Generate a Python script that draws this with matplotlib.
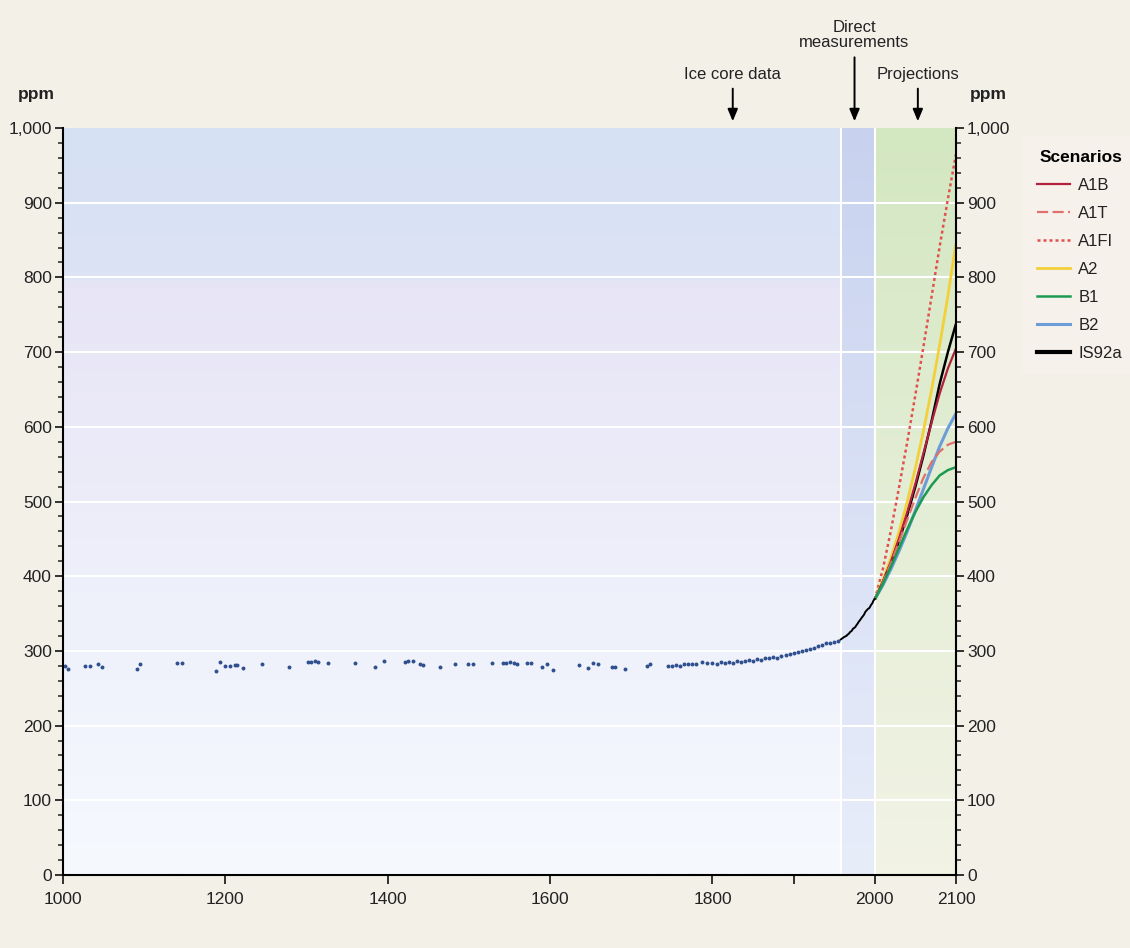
import numpy as np
import matplotlib
matplotlib.use("Agg")
import matplotlib.pyplot as plt
from matplotlib.colors import LinearSegmentedColormap
from matplotlib.ticker import MultipleLocator, FuncFormatter, FixedLocator
from matplotlib.lines import Line2D

plt.rcParams['font.family'] = ['Liberation Sans Narrow', 'Liberation Sans', 'DejaVu Sans']

# ---------------- data ----------------
# ice core samples (year, ppm)
iceYears = [1002, 1006, 1027, 1033, 1043, 1048, 1091, 1095, 1140, 1146,
            1189, 1193, 1199, 1206, 1212, 1214, 1222, 1245, 1279, 1302,
            1306, 1310, 1314, 1327, 1360, 1384, 1396, 1421, 1425, 1431,
            1440, 1444, 1464, 1483, 1499, 1505, 1528, 1542, 1546, 1550,
            1555, 1559, 1571, 1577, 1590, 1596, 1604, 1635, 1647, 1653,
            1659, 1676, 1680, 1692, 1719, 1723, 1745, 1750, 1755, 1760,
            1765, 1770, 1775, 1780, 1787, 1793, 1800, 1805, 1810, 1815,
            1820, 1825, 1830, 1835, 1840, 1845, 1850, 1855, 1860, 1865,
            1870, 1875, 1880, 1885, 1890, 1895, 1900, 1905, 1910, 1915,
            1920, 1925, 1930, 1935, 1940, 1945, 1950, 1955]
icePpm = [280, 276, 280, 280, 282, 278, 276, 283, 284, 284,
          273, 285, 280, 280, 281, 281, 277, 282, 279, 285,
          285, 286, 285, 284, 284, 279, 286, 285, 286, 287,
          282, 281, 279, 282, 282, 282, 284, 284, 284, 285,
          284, 283, 284, 284, 279, 282, 275, 281, 277, 284,
          283, 279, 278, 276, 280, 283, 280, 280, 281, 280,
          282, 283, 282, 283, 285, 284, 284, 283, 285, 284,
          285, 284, 286, 285, 286, 288, 287, 289, 288, 290,
          290, 292, 291, 293, 294, 296, 297, 298, 300, 301,
          303, 304, 307, 308, 310, 310, 312, 313]

# direct measurements (Mauna Loa annual means)
mloYears = list(range(1958, 2001))
mloPpm = [315.3, 316.0, 316.9, 317.6, 318.5, 319.0, 319.6, 320.0, 321.4, 322.2,
          323.0, 324.6, 325.7, 326.3, 327.5, 329.7, 330.2, 331.1, 332.0, 333.8,
          335.4, 336.8, 338.8, 340.1, 341.5, 343.1, 344.7, 346.1, 347.4, 349.2,
          351.6, 353.1, 354.4, 355.6, 356.5, 357.1, 358.8, 360.8, 362.6, 363.7,
          366.7, 368.4, 369.6]

# projections
projYears = [2000, 2010, 2020, 2030, 2040, 2050, 2060, 2070, 2080, 2090, 2100]
scenarios = {
    "A1B":   [369, 393, 420, 451, 486, 524, 565, 606, 645, 678, 705],
    "A1T":   [369, 392, 418, 446, 476, 505, 532, 553, 567, 576, 580],
    "A1FI":  [369, 410, 462, 520, 580, 643, 708, 775, 842, 905, 965],
    "A2":    [369, 395, 425, 460, 500, 545, 595, 650, 710, 775, 846],
    "B1":    [369, 390, 413, 438, 463, 486, 506, 522, 535, 542, 546],
    "B2":    [369, 388, 410, 434, 460, 488, 517, 546, 574, 598, 618],
    "IS92a": [369, 392, 418, 448, 482, 520, 562, 608, 658, 700, 738],
}
styles = {
    "A1B":   dict(color="#b3203c", ls="-", lw=1.6),
    "A1T":   dict(color="#e0706c", ls=(0, (5, 2)), lw=1.6),
    "A1FI":  dict(color="#e2504e", ls=(0, (1.2, 1.2)), lw=1.8),
    "A2":    dict(color="#f3d03a", ls="-", lw=2.0),
    "B1":    dict(color="#1c9a52", ls="-", lw=1.8),
    "B2":    dict(color="#6d9dd8", ls="-", lw=2.2),
    "IS92a": dict(color="#000000", ls="-", lw=1.8),
}
legendOrder = ["A1B", "A1T", "A1FI", "A2", "B1", "B2", "IS92a"]
drawOrder = ["A1FI", "A2", "IS92a", "A1B", "B2", "A1T", "B1"]

directStart = 1958
projStart = 2000

# ---------------- figure ----------------
fig = plt.figure(figsize=(11.3, 9.48), dpi=100)
fig.patch.set_facecolor("#f3f0e8")
ax = fig.add_axes([63/1130, 73/948, 893/1130, 747/948])

# background gradients
def grad(stops):
    cm = LinearSegmentedColormap.from_list("g", stops)
    return cm(np.linspace(0, 1, 300))[::-1, None, :]

mainBg = grad([(0, "#f6f9fe"), (0.3, "#eff2fb"), (0.6, "#ebeaf8"),
               (0.79, "#e7e5f6"), (0.81, "#dbe3f5"), (1, "#d7e1f4")])
directBg = grad([(0, "#e8edfa"), (0.6, "#d6def4"), (1, "#c8d2ee")])
projBg = grad([(0, "#f2f3e5"), (0.5, "#e4eed6"), (1, "#d3e7c1")])
ax.imshow(mainBg, extent=[1000, directStart, 0, 1000], aspect="auto", zorder=0)
ax.imshow(directBg, extent=[directStart, projStart, 0, 1000], aspect="auto", zorder=0)
ax.imshow(projBg, extent=[projStart, 2100, 0, 1000], aspect="auto", zorder=0)
ax.set_xlim(1000, 2100)
ax.set_ylim(0, 1000)

# grid lines
for v in range(100, 1000, 100):
    ax.axhline(v, color="white", lw=1.5, zorder=1)
for yr in (directStart, projStart):
    ax.axvline(yr, color="white", lw=1.5, zorder=1)

# data
ax.scatter(iceYears, icePpm, s=8, color="#2f4f8f", zorder=3, linewidths=0)
for name in drawOrder:
    st = styles[name]
    ax.plot(projYears, scenarios[name], color=st["color"], ls=st["ls"],
            lw=st["lw"], zorder=4, solid_capstyle="butt")
ax.plot(mloYears, mloPpm, color="black", lw=1.4, zorder=5)

# axes styling
ax.spines["top"].set_visible(False)
for s in ("left", "right", "bottom"):
    ax.spines[s].set_linewidth(1.5)
    ax.spines[s].set_zorder(6)
ax.yaxis.set_major_locator(MultipleLocator(100))
ax.yaxis.set_minor_locator(MultipleLocator(20))
ax.yaxis.set_major_formatter(FuncFormatter(lambda v, p: f"{v:,.0f}"))
ax.yaxis.set_ticks_position("both")
ax.tick_params(axis="y", which="both", labelright=True, labelleft=True,
               direction="out", labelsize=12.5, colors="#222222")
ax.tick_params(axis="y", which="major", length=6, width=1.3, pad=2)
ax.tick_params(axis="y", which="minor", length=3.5, width=1.1)
ax.xaxis.set_major_locator(FixedLocator([1000, 1200, 1400, 1600, 1800, 1900, 2000, 2100]))
ax.set_xticklabels(["1000", "1200", "1400", "1600", "1800", "", "2000", "2100"])
ax.tick_params(axis="x", direction="out", length=6.5, width=1.3, labelsize=12.5,
               colors="#222222", pad=6)

fig.text(18/1130, 1 - 95/948, "ppm", fontsize=12.5, fontweight="bold",
         va="center", ha="left", color="#222222")
fig.text(970/1130, 1 - 95/948, "ppm", fontsize=12.5, fontweight="bold",
         va="center", ha="left", color="#222222")

# annotations
arrow = dict(arrowstyle="-|>,head_length=0.6,head_width=0.25", color="black", lw=1.4,
             shrinkA=3, shrinkB=0)
tc = ("data", "axes fraction")
ax.annotate("Ice core data", xy=(1825, 1.009), xytext=(1825, 1.072), xycoords=tc,
            textcoords=tc, ha="center", va="center", fontsize=12, arrowprops=arrow,
            annotation_clip=False, color="#222222")
ax.annotate("Direct\nmeasurements", xy=(1975, 1.009), xytext=(1975, 1.124), xycoords=tc,
            textcoords=tc, ha="center", va="center", fontsize=12, arrowprops=arrow,
            annotation_clip=False, linespacing=1.0, color="#222222")
ax.annotate("Projections", xy=(2053, 1.009), xytext=(2053, 1.072), xycoords=tc,
            textcoords=tc, ha="center", va="center", fontsize=12, arrowprops=arrow,
            annotation_clip=False, color="#222222")

# legend
handles = []
for name in legendOrder:
    st = styles[name]
    lw = 3.0 if name == "IS92a" else st["lw"]
    handles.append(Line2D([], [], color=st["color"], ls=st["ls"], lw=lw))
leg = fig.legend(handles, legendOrder, title="Scenarios", loc="upper left",
                 bbox_to_anchor=(1020/1130, 1 - 133/948), frameon=True,
                 fontsize=12, title_fontsize=12.5, handlelength=2.0,
                 labelspacing=0.78, borderpad=0.5, handletextpad=0.5)
leg.get_title().set_fontweight("bold")
for t in leg.get_texts():
    t.set_color("#222222")
leg.get_frame().set_facecolor("#f7f2ed")
leg.get_frame().set_edgecolor("none")
leg.get_frame().set_boxstyle("square")
leg._legend_box.align = "right"

fig.savefig("out.png", dpi=100, facecolor=fig.get_facecolor())
